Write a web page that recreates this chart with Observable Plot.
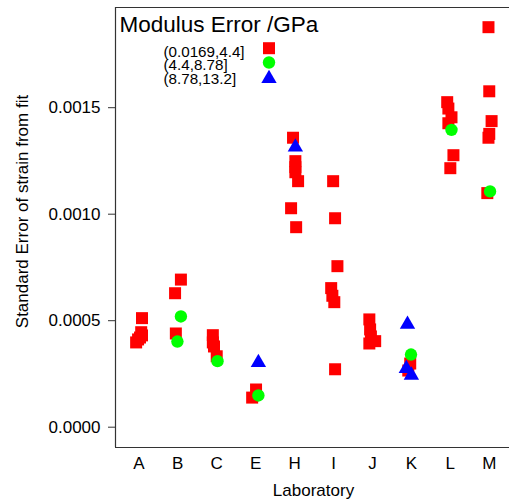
<!DOCTYPE html>
<html>
<head>
<meta charset="utf-8">
<script src="https://cdn.jsdelivr.net/npm/d3@7"></script>
<script src="https://cdn.jsdelivr.net/npm/@observablehq/plot@0.6"></script>
<style>
  html, body { margin: 0; padding: 0; background: #fff; }
  #chart { width: 509px; height: 504px; overflow: hidden; }
</style>
</head>
<body>
<div id="chart"></div>
<script>
// Categories (laboratories) and legend groups
const labs = ["A", "B", "C", "E", "H", "I", "J", "K", "L", "M"];
const groups = ["(0.0169,4.4]", "(4.4,8.78]", "(8.78,13.2]"];
const legendTitle = "Modulus Error /GPa";
const yTicks = [0, 0.0005, 0.0010, 0.0015];

// Observations: laboratory, jitter (category units), standard error, modulus-error group index
const obsLab = [
  "A","A","A","A","A","A",
  "B","B","B","B","B",
  "C","C","C","C","C",
  "E","E","E","E",
  "H","H","H","H","H","H","H","H",
  "I","I","I","I","I","I","I",
  "J","J","J","J","J",
  "K","K","K","K","K","K",
  "L","L","L","L","L","L","L",
  "M","M","M","M","M","M","M"
];
const obsJitter = [
  0.08, 0.06, 0.08, 0.03, -0.02, -0.07,
  0.08, -0.07, 0.08, -0.05, -0.01,
  -0.1, -0.1, -0.07, 0.0, 0.02,
  0.07, 0.01, -0.09, 0.07,
  -0.04, 0.02, 0.02, 0.02, 0.02, 0.09, -0.09, 0.04,
  -0.01, 0.04, 0.1, -0.06, -0.03, 0.02, 0.04,
  -0.08, -0.06, -0.04, 0.07, -0.08,
  -0.1, -0.01, -0.03, -0.08, -0.13, 0.0,
  -0.08, -0.05, 0.03, -0.05, 0.03, 0.08, 0.0,
  -0.02, 0.0, 0.06, 0.0, -0.02, -0.05, 0.02
];
const obsValue = [
  0.000512, 0.000446, 0.000431, 0.000421, 0.000412, 0.000398,
  0.000693, 0.000629, 0.000520, 0.000440, 0.000402,
  0.000432, 0.000398, 0.000379, 0.000333, 0.000310,
  0.000303, 0.000177, 0.000139, 0.000149,
  0.001359, 0.001315, 0.001249, 0.001221, 0.001197, 0.001155, 0.001028, 0.000939,
  0.001155, 0.000981, 0.000756, 0.000653, 0.000617, 0.000587, 0.000272,
  0.000506, 0.000459, 0.000426, 0.000404, 0.000393,
  0.000483, 0.000341, 0.000299, 0.000266, 0.000275, 0.000244,
  0.001526, 0.001496, 0.001455, 0.001427, 0.001396, 0.001277, 0.001216,
  0.001878, 0.001577, 0.001437, 0.001377, 0.001359, 0.001099, 0.001107
];
const obsGroup = [
  0,0,0,0,0,0,
  0,0,1,0,1,
  0,0,0,0,1,
  2,0,0,1,
  0,2,0,0,0,0,0,0,
  0,0,0,0,0,0,0,
  0,0,0,0,0,
  2,1,0,0,2,2,
  0,0,0,0,1,0,0,
  0,0,0,0,0,0,1
];

const rows = obsLab.map((lab, i) => ({
  x: labs.indexOf(lab) + 1 + obsJitter[i],
  y: obsValue[i],
  g: obsGroup[i]
}));

const fillColors = ["#ff0000", "#00ff00", "#0000ff"];
const symbols = ["square", "circle", "triangle"];
const radii = [6.77, 6.2, 5.7];

const yDomain = [-0.0000953, 0.0019704];
const xDomain = [0.4, 10.52];

const marks = [];
// frame lines (left, top, bottom)
marks.push(Plot.ruleX([xDomain[0]], {stroke: "#333", strokeWidth: 1.2}));
marks.push(Plot.ruleY(yDomain, {stroke: "#333", strokeWidth: 1.2}));

marks.push(Plot.axisY({
  ticks: yTicks,
  tickFormat: d3.format(".4f"),
  tickSize: 7,
  tickPadding: 8,
  label: null,
  stroke: "#333"
}));
marks.push(Plot.axisX({
  ticks: d3.range(1, labs.length + 1),
  tickFormat: (d) => labs[d - 1],
  tickSize: 0,
  tickPadding: 9,
  label: null
}));

// data points: squares, then circles, then triangles on top
for (let g = 0; g < 3; g++) {
  marks.push(Plot.dot(rows.filter((d) => d.g === g), {
    x: "x", y: "y", symbol: symbols[g], r: radii[g], fill: fillColors[g], stroke: null
  }));
}

// legend inside the panel
marks.push(Plot.text([legendTitle], {
  frameAnchor: "top-left", text: (d) => d, textAnchor: "start", lineAnchor: "bottom",
  dx: 4, dy: 24.5, fontSize: 22.5, fill: "#000"
}));
const legTextDy = [49, 62.5, 76];
const legSymDy = [40.7, 55, 71];
groups.forEach((g, i) => {
  marks.push(Plot.text([g], {
    frameAnchor: "top-left", text: (d) => d, textAnchor: "start", lineAnchor: "bottom",
    dx: 48, dy: legTextDy[i], fontSize: 15.2, fill: "#000"
  }));
  marks.push(Plot.dot([g], {
    frameAnchor: "top-left", dx: 153.5, dy: legSymDy[i],
    symbol: symbols[i], r: radii[i], fill: fillColors[i], stroke: null
  }));
});

// axis titles
marks.push(Plot.text(["Standard Error of strain from fit"], {
  frameAnchor: "left", text: (d) => d, textAnchor: "middle", rotate: -90,
  dx: -93, dy: -16, fontSize: 17, fill: "#000"
}));
marks.push(Plot.text(["Laboratory"], {
  frameAnchor: "bottom", text: (d) => d, textAnchor: "middle", lineAnchor: "bottom",
  dx: 1, dy: 48, fontSize: 17, fill: "#000"
}));

const chart = Plot.plot({
  width: 509,
  height: 504,
  marginLeft: 115,
  marginRight: 0,
  marginTop: 7,
  marginBottom: 57,
  x: {type: "linear", domain: xDomain},
  y: {type: "linear", domain: yDomain},
  style: {fontFamily: "'Liberation Sans', Arial, sans-serif", fontSize: "17px", color: "#000", background: "#fff", overflow: "visible"},
  marks
});
document.getElementById("chart").appendChild(chart);
</script>
</body>
</html>
